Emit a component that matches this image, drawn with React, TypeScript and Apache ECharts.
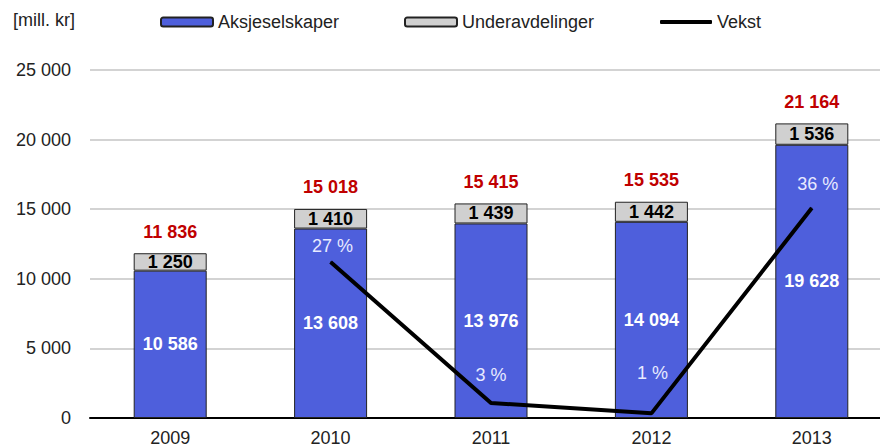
import React, { useEffect, useRef } from "react";
import * as echarts from "echarts";

const years = ["2009", "2010", "2011", "2012", "2013"];
const aksjeselskaper = [10586, 13608, 13976, 14094, 19628];
const underavdelinger = [1250, 1410, 1439, 1442, 1536];
const totals = [11836, 15018, 15415, 15535, 21164];
const vekst: (number | null)[] = [null, 26.9, 2.6, 0.8, 36.2];
const vekstLabels = ["", "27 %", "3 %", "1 %", "36 %"];
const vekstLabelDistance = [0, 6, 18, 31, 15];
const vekstLabelDx = [0, 2, 0, 1, 6];
const yTicks = [0, 5000, 10000, 15000, 20000, 25000];

const FONT = "'Liberation Sans', Arial, sans-serif";
const fmt = (v: number) => String(v).replace(/\B(?=(\d{3})+(?!\d))/g, " ");

export default function App() {
  const ref = useRef<HTMLDivElement>(null);
  useEffect(() => {
    document.body.style.margin = "0";
    const chart = echarts.init(ref.current!, null, { renderer: "svg" });
    const legendCommon = {
      top: 13,
      padding: 0,
      itemWidth: 52,
      itemHeight: 9,
      itemGap: 4,
      textStyle: { fontFamily: FONT, fontSize: 18, color: "#222", padding: [6, 0, 0, 0] },
    };
    chart.setOption({
      animation: false,
      textStyle: { fontFamily: FONT },
      graphic: [
        {
          type: "text",
          left: 13,
          top: 11,
          style: { text: "[mill. kr]", font: `18px ${FONT}`, fill: "#222" },
        },
      ],
      legend: [
        { ...legendCommon, left: 160, data: ["Aksjeselskaper"] },
        { ...legendCommon, left: 404, data: ["Underavdelinger"] },
        {
          ...legendCommon,
          left: 660,
          itemHeight: 4,
          data: [{ name: "Vekst", icon: "roundRect", itemStyle: { color: "#000" } }],
        },
      ],
      grid: { left: 90, top: 70, width: 802, height: 348, containLabel: false },
      xAxis: {
        type: "category",
        data: years,
        axisTick: { show: false },
        axisLine: { lineStyle: { color: "#000", width: 2 } },
        axisLabel: { fontSize: 18, color: "#222", margin: 11, fontFamily: FONT },
      },
      yAxis: [
        {
          type: "value",
          min: yTicks[0],
          max: yTicks[yTicks.length - 1],
          interval: yTicks[1] - yTicks[0],
          axisLine: { show: false },
          axisTick: { show: false },
          axisLabel: { fontSize: 18, color: "#222", margin: 19, fontFamily: FONT, formatter: (v: number) => fmt(v) },
          splitLine: { lineStyle: { color: "#c4c4c4", width: 1.5 } },
        },
        { type: "value", min: 0, max: 60, show: false, splitLine: { show: false } },
      ],
      series: [
        {
          name: "Aksjeselskaper",
          type: "bar",
          stack: "total",
          barWidth: 73,
          data: aksjeselskaper,
          itemStyle: { color: "#4e5fdc", borderColor: "#222", borderWidth: 1 },
          label: {
            show: true,
            position: "inside",
            color: "#fff",
            fontWeight: "bold",
            fontSize: 18,
            fontFamily: FONT,
            formatter: (p: any) => fmt(p.value),
          },
        },
        {
          name: "Underavdelinger",
          type: "bar",
          stack: "total",
          barWidth: 73,
          data: underavdelinger,
          itemStyle: { color: "#d0d0d0", borderColor: "#222", borderWidth: 1 },
          label: {
            show: true,
            position: "inside",
            color: "#000",
            fontWeight: "bold",
            fontSize: 18,
            fontFamily: FONT,
            formatter: (p: any) => fmt(p.value),
          },
        },
        {
          name: "Totals",
          type: "line",
          data: totals.map((v) => ({
            value: v,
            label: {
              show: true,
              position: "top",
              distance: 12,
              color: "#c00000",
              fontWeight: "bold",
              fontSize: 18,
              fontFamily: FONT,
              formatter: fmt(v),
            },
          })),
          symbol: "circle",
          symbolSize: 1,
          showSymbol: true,
          silent: true,
          itemStyle: { color: "rgba(0,0,0,0)" },
          lineStyle: { width: 0, color: "rgba(0,0,0,0)" },
          z: 5,
        },
        {
          name: "Vekst",
          type: "line",
          yAxisIndex: 1,
          symbol: "circle",
          symbolSize: 1,
          showSymbol: true,
          lineStyle: { color: "#000", width: 4 },
          itemStyle: { color: "#000" },
          data: vekst.map((v, i) => ({
            value: v,
            label: {
              show: v !== null,
              position: "top",
              distance: vekstLabelDistance[i],
              offset: [vekstLabelDx[i], 0],
              formatter: vekstLabels[i],
              color: "#e8eaff",
              fontSize: 18,
              fontFamily: FONT,
            },
          })),
          z: 4,
        },
      ],
    });
    return () => chart.dispose();
  }, []);
  return (
    <div style={{ width: 880, height: 448, overflow: "hidden" }}>
      <div ref={ref} style={{ width: 892, height: 448 }} />
    </div>
  );
}
